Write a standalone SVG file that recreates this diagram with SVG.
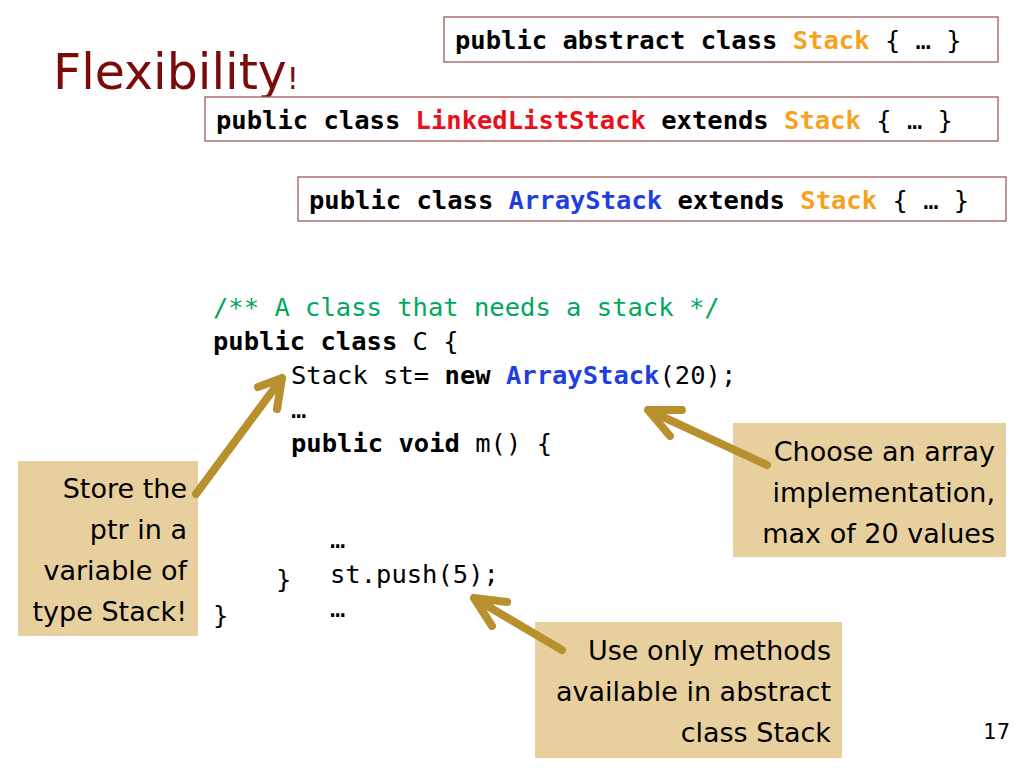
<svg xmlns="http://www.w3.org/2000/svg" width="1024" height="768" viewBox="0 0 1024 768">
<defs>
<style>
.code{font-family:"DejaVu Sans Mono","Liberation Mono",monospace;font-size:25.5px;fill:#000}
.b{font-weight:bold}
.n{font-weight:normal}
.or{fill:#f5a21f}
.rd{fill:#e8101a}
.bl{fill:#1f3fe0}
.gr{fill:#00a85a}
.box{fill:#fff;stroke:#a05a5a;stroke-width:1.3}
.note{fill:#e8d09e}
.nt{font-family:"DejaVu Sans","Noto Sans",sans-serif;font-size:27px;fill:#000;text-anchor:end}
.arr{fill:none;stroke:#b8912e;stroke-width:8;stroke-linecap:round;stroke-linejoin:round}
</style>
</defs>
<rect width="1024" height="768" fill="#fff"/>
<g id="title">
<text x="53" y="89" font-family="'DejaVu Sans','Noto Sans',sans-serif" font-size="49" fill="#7b0a0a">Flexibility<tspan font-size="30">!</tspan></text>
</g>
<g id="stack">
<rect class="box" x="444" y="17" width="554" height="45"/>
<text class="code b" x="455" y="49">public abstract class <tspan class="or">Stack</tspan> <tspan class="n">{ … }</tspan></text>
</g>
<g id="linkedliststack">
<rect class="box" x="205" y="97" width="793" height="44"/>
<text class="code b" x="216" y="129">public class <tspan class="rd">LinkedListStack</tspan> extends <tspan class="or">Stack</tspan> <tspan class="n">{ … }</tspan></text>
</g>
<g id="arraystack">
<rect class="box" x="298" y="177" width="708" height="44"/>
<text class="code b" x="309" y="209">public class <tspan class="bl">ArrayStack</tspan> extends <tspan class="or">Stack</tspan> <tspan class="n">{ … }</tspan></text>
</g>
<g id="code">
<text class="code gr" x="213" y="316">/** A class that needs a stack */</text>
<text class="code" x="213" y="350"><tspan class="b">public class</tspan> C {</text>
<text class="code" x="291" y="384">Stack st= <tspan class="b">new</tspan> <tspan class="b bl">ArrayStack</tspan>(20);</text>
<text class="code" x="291" y="418">…</text>
<text class="code" x="291" y="452"><tspan class="b">public void</tspan> m() {</text>
<text class="code" x="330" y="548">…</text>
<text class="code" x="276" y="588">}</text>
<text class="code" x="330" y="583">st.push(5);</text>
<text class="code" x="330" y="617">…</text>
<text class="code" x="213" y="624">}</text>
</g>
<g id="note-store">
<rect class="note" x="18" y="461" width="180" height="175"/>
<text class="nt" x="187" y="498">Store the</text>
<text class="nt" x="187" y="539">ptr in a</text>
<text class="nt" x="187" y="580">variable of</text>
<text class="nt" x="187" y="621">type Stack!</text>
</g>
<g id="note-choose">
<rect class="note" x="733" y="423" width="273" height="134"/>
<text class="nt" x="995" y="461">Choose an array</text>
<text class="nt" x="995" y="502">implementation,</text>
<text class="nt" x="995" y="543">max of 20 values</text>
</g>
<g id="note-use">
<rect class="note" x="535" y="622" width="307" height="136"/>
<text class="nt" x="831" y="660">Use only methods</text>
<text class="nt" x="831" y="701">available in abstract</text>
<text class="nt" x="831" y="742">class Stack</text>
</g>
<g id="connectors">
<path class="arr" d="M196,494 L282,378 M258,387 L282,378 L277,409"/>
<path class="arr" d="M767,465 L648,410 M682,410 L648,410 L670,436"/>
<path class="arr" d="M562,650 L474,598 M507,602 L474,598 L492,626"/>
</g>
<text x="1010" y="739" font-family="'DejaVu Sans','Noto Sans',sans-serif" font-size="21" fill="#000" text-anchor="end">17</text>
</svg>
